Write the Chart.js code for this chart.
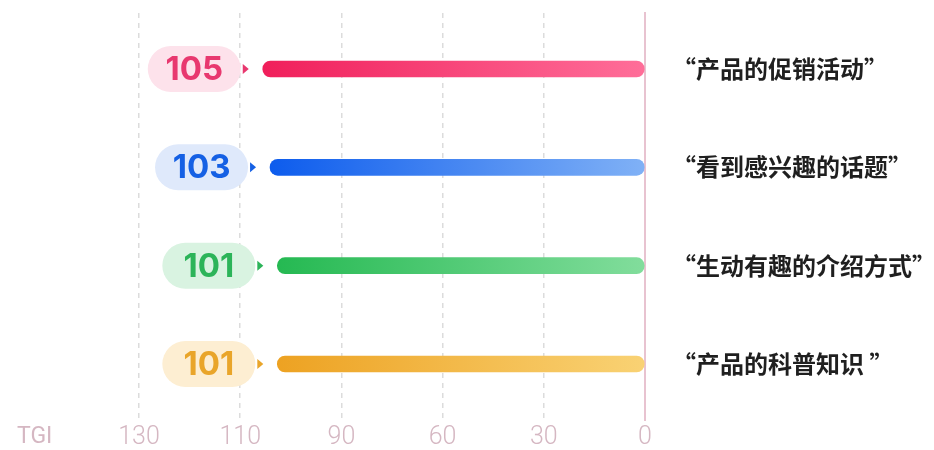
<!DOCTYPE html>
<html>
<head>
<meta charset="utf-8">
<script src="https://cdn.jsdelivr.net/npm/chart.js@4/dist/chart.umd.min.js"></script>
<style>
  html,body{margin:0;padding:0;background:#fff;}
  #wrap{width:934px;height:450px;position:relative;}
</style>
</head>
<body>
<div id="wrap"><canvas id="tgiChart"></canvas></div>
<script>
// --- data ---
const categories = ['“产品的促销活动”', '“看到感兴趣的话题”', '“生动有趣的介绍方式”', '“产品的科普知识 ”'];
const tgiValues = [105, 103, 101, 101];
const tickLabels = ['0', '30', '60', '90', '110', '130'];
const axisName = 'TGI';

// colours per bar: [dark end, light end, pill fill, label text]
const barColors = [
  ['#f01f5b', '#ff6e99', '#fde2eb', '#e8386f'],
  ['#0d5ced', '#80b1f6', '#dfe9fb', '#1560e4'],
  ['#25b952', '#82dd9c', '#d9f3e1', '#2cb459'],
  ['#eda222', '#f9d274', '#fdeed2', '#e9a52a']
];

const AXIS_MAX = 139;

// --- value pill + little arrow left of each bar ---
const pillPlugin = {
  id: 'pills',
  afterDatasetsDraw(chart){
    const ctx = chart.ctx;
    const meta = chart.getDatasetMeta(0);
    meta.data.forEach((bar, i) => {
      const c = barColors[i];
      const left = Math.min(bar.x, bar.base);
      const w = 93, h = 46, r = 23;
      const px = left - 22 - w, py = bar.y - h/2;
      ctx.save();
      ctx.fillStyle = c[2];
      ctx.beginPath();
      ctx.roundRect(px, py, w, h, r);
      ctx.fill();
      ctx.fillStyle = c[3];
      ctx.font = 'bold 33px Inter, "Noto Sans", sans-serif';
      ctx.textAlign = 'center';
      ctx.textBaseline = 'middle';
      ctx.fillText(String(tgiValues[i]), px + w/2, bar.y + 1);
      // arrow
      ctx.beginPath();
      ctx.moveTo(px + w + 2, bar.y - 5);
      ctx.lineTo(px + w + 8, bar.y);
      ctx.lineTo(px + w + 2, bar.y + 5);
      ctx.closePath();
      ctx.fill();
      ctx.restore();
    });
  }
};

// --- axis name at lower left ---
const axisNamePlugin = {
  id: 'axisName',
  afterDraw(chart){
    const ctx = chart.ctx;
    ctx.save();
    ctx.fillStyle = '#d5b7c2';
    ctx.font = '23px Roboto, sans-serif';
    ctx.textBaseline = 'middle';
    ctx.fillText(axisName, 17, 437);
    ctx.restore();
  }
};

function barGradient(c){
  const i = c.dataIndex;
  const xs = c.chart.scales && c.chart.scales.x;
  if(!xs || !c.chart.chartArea) return barColors[i][0];
  const a = xs.getPixelForValue(tgiValues[i]), b = xs.getPixelForValue(0);
  if(!isFinite(a) || !isFinite(b)) return barColors[i][0];
  const g = c.chart.ctx.createLinearGradient(Math.min(a, b), 0, Math.max(a, b), 0);
  g.addColorStop(0, barColors[i][0]);
  g.addColorStop(1, barColors[i][1]);
  return g;
}

new Chart(document.getElementById('tgiChart'), {
  type: 'bar',
  data: {
    labels: categories,
    datasets: [{
      data: tgiValues,
      barThickness: 16,
      borderRadius: 8,
      borderSkipped: false,
      backgroundColor: barGradient
    }]
  },
  options: {
    indexAxis: 'y',
    responsive: true,
    maintainAspectRatio: false,
    animation: false,
    layout: { padding: { left: 139, top: 13, right: 0, bottom: 0 } },
    plugins: { legend: { display: false }, tooltip: { enabled: false } },
    scales: {
      x: {
        reverse: true,
        min: 0,
        max: AXIS_MAX,
        afterBuildTicks: s => { s.ticks = tickLabels.map((_, i) => ({ value: AXIS_MAX * i / (tickLabels.length - 1) })); },
        afterFit: s => { s.height = 30; s.paddingLeft = 0; s.paddingRight = 0; },
        ticks: {
          autoSkip: false,
          maxRotation: 0,
          padding: 3,
          color: '#d5b7c2',
          font: { family: 'Roboto', size: 25, weight: 300 },
          callback: (v, i) => tickLabels[i]
        },
        grid: {
          drawTicks: false,
          color: c => c.index === 0 ? 'rgba(0,0,0,0)' : '#dcdcdc',
          lineWidth: 1.5
        },
        border: { display: false, dash: [5, 5] }
      },
      y: {
        position: 'right',
        // a bit of extra room above the first and below the last row
        afterBuildTicks: s => { s._startValue -= 0.07; s._valueRange += 0.14; },
        afterFit: s => { s.width = 934 - 645; s.paddingTop = 0; s.paddingBottom = 0; },
        ticks: {
          padding: 19,
          color: '#1f1f1f',
          font: { family: '"Noto Sans CJK SC"', size: 24, weight: 'bold' }
        },
        grid: { display: false },
        border: { display: true, color: '#e8c3d0', width: 2 }
      }
    }
  },
  plugins: [pillPlugin, axisNamePlugin]
});
</script>
</body>
</html>
